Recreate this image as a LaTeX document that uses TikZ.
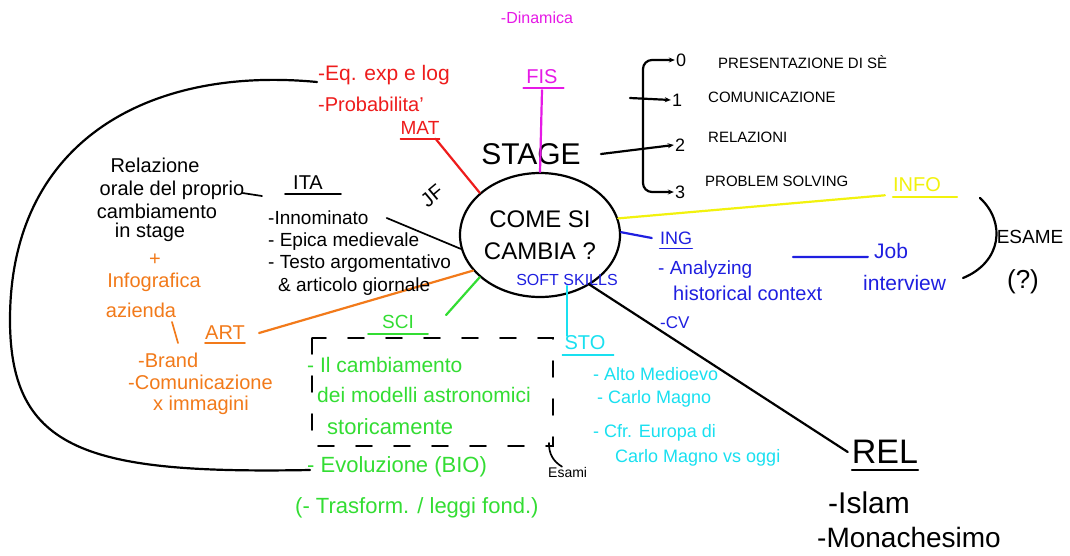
\documentclass[tikz,border=0pt]{standalone}
\usepackage{fontspec}
\setmainfont{Liberation Sans}
\usetikzlibrary{shapes.geometric,arrows.meta,calc}
\definecolor{mred}{HTML}{EE1C1C}
\definecolor{mmag}{HTML}{E619E6}
\definecolor{myel}{HTML}{F2F20D}
\definecolor{mblue}{HTML}{1F1FE0}
\definecolor{mcyan}{HTML}{19E0F0}
\definecolor{mgreen}{HTML}{33DD33}
\definecolor{morange}{HTML}{F27A1A}
\tikzset{
  fsz/.style={font=\fontsize{#1}{#1}\selectfont},
  lw/.style={inner sep=0pt, anchor=west},
  lc/.style={inner sep=0pt},
  ink/.style={line width=2.2pt, line cap=round},
  thin ink/.style={line width=1.7pt, line cap=round},
  >={Stealth[length=6pt,width=5pt]}
}
\begin{document}
\begin{tikzpicture}[x=1pt,y=-1pt]
\useasboundingbox[fill=white] (0,0) rectangle (1070,555);

% ---------- centre ----------
\node[draw, ink, ellipse, minimum width=160pt, minimum height=124pt, inner sep=0pt,
      align=center, font=\fontsize{24}{32}\selectfont] (core) at (540,235) {COME SI\\CAMBIA ?};
\node[lc, fsz=16, text=mblue] (softs) at (567,280) {SOFT SKILLS};

% ---------- STAGE ----------
\node[lc, fsz=30] (stage) at (531,154) {STAGE};
\node[lc, fsz=18] (n0) at (681,60) {0};
\node[lc, fsz=18] (n1) at (677,100) {1};
\node[lc, fsz=18] (n2) at (680,145) {2};
\node[lc, fsz=18] (n3) at (680,192) {3};
\node[lw, fsz=15] (t0) at (718,62) {PRESENTAZIONE DI SÈ};
\node[lw, fsz=15] (t1) at (708,97) {COMUNICAZIONE};
\node[lw, fsz=15] (t2) at (708,137) {RELAZIONI};
\node[lw, fsz=15] (t3) at (705,181) {PROBLEM SOLVING};
\coordinate (brk) at (643,148);
\coordinate (b1) at (630,98);
\draw[ink,->] ([xshift=20pt]stage.east) -- ([xshift=-1pt]n2.west);
\draw[ink,->,rounded corners=9pt] (brk) |- ([xshift=-1pt]n0.west);
\draw[ink,->,rounded corners=9pt] (brk) |- ([xshift=-1pt]n3.west);
\draw[ink,->] (b1) -- ([xshift=-1pt]n1.west);

% ---------- FIS ----------
\node[lc, fsz=16, text=mmag] (dyn) at (537,18) {-Dinamica};
\node[lc, fsz=20, text=mmag] (fis) at (542,77) {FIS};
\draw[thin ink, mmag] ([xshift=-3pt,yshift=-4pt]fis.south west) -- ([xshift=6pt,yshift=-4pt]fis.south east);
\draw[ink, mmag] ([yshift=-6pt]fis.south) -- (core.90);

% ---------- MAT ----------
\node[lw, fsz=21, text=mred] (eq) at (318,75) {-Eq. exp e log};
\node[lw, fsz=20, text=mred] (prob) at (318,104) {-Probabilita'};
\node[lc, fsz=19, text=mred] (mat) at (420,128) {MAT};
\draw[thin ink, mred] ([yshift=-4pt]mat.south west) -- ([yshift=-4pt]mat.south east);
\draw[ink, mred] ([xshift=-4pt,yshift=-4pt]mat.south east) -- (core.145);

% ---------- big arc ----------
\coordinate (arcA) at (317,82);
\coordinate (arcB) at (310,470);
\draw[ink] (arcA) .. controls (150,66) and (10,140) .. (10,320)
           .. controls (10,452) and (90,474) .. (arcB);

% ---------- left text ----------
\node[lc, fsz=20] (rel1) at (155,165) {Relazione};
\node[lc, fsz=20] (rel2) at (172,190) {orale del proprio};
\node[lc, fsz=20] (rel3) at (157,211) {cambiamento};
\node[lc, fsz=20] (rel4) at (150,232) {in stage};
\coordinate (tail) at (262,196);
\draw[thin ink] ([xshift=-2pt,yshift=-3pt]rel2.east) -- (tail);
\node[lc, fsz=20, text=morange] (plus) at (155,260) {+};
\node[lc, fsz=20, text=morange] (infog) at (154,282) {Infografica};
\node[lc, fsz=20, text=morange] (azi) at (141,310) {azienda};
\coordinate (s1) at (172,322);
\coordinate (s2) at (178,343);
\draw[thin ink, morange] (s1) -- (s2);
\node[lc, fsz=20, text=morange] (art) at (225,333) {ART};
\draw[thin ink, morange] ([yshift=-3pt]art.south west) -- ([yshift=-3pt]art.south east);
\node[lw, fsz=20, text=morange] (brand) at (138,360) {-Brand};
\node[lw, fsz=20, text=morange] (comx) at (128,382) {-Comunicazione};
\node[lw, fsz=20, text=morange] (xim) at (153,405) {x immagini};
\draw[ink, morange] ([xshift=14pt]art.east) -- (core.208);

% ---------- ITA ----------
\node[lc, fsz=20] (ita) at (308,183) {ITA};
\draw[thin ink] ([xshift=-8pt,yshift=-4pt]ita.south west) -- ([xshift=18pt,yshift=-4pt]ita.south east);
\node[lw, fsz=19] (inno) at (268,218) {-Innominato};
\node[lw, fsz=19] (epi) at (268,242) {- Epica medievale};
\node[lw, fsz=19] (tes) at (268,264) {- Testo argomentativo};
\node[lw, fsz=19] (gio) at (278,287) {\& articolo giornale};
\draw[thin ink] ([xshift=18pt]inno.east) -- (core.190);
\node[lc, fsz=20, rotate=40] (jf) at (432,196) {JF};

% ---------- SCI ----------
\node[lc, fsz=19, text=mgreen] (sci) at (398,322) {SCI};
\draw[thin ink, mgreen] ([xshift=-14pt,yshift=-5pt]sci.south west) -- ([xshift=14pt,yshift=-5pt]sci.south east);
\draw[ink, mgreen] (core.215) -- ([xshift=32pt]sci.north east);
\draw[thin ink, dash pattern=on 16pt off 22pt] (312,338) rectangle (553,446);
\node[lw, fsz=21, text=mgreen] (g1) at (307,365) {- Il cambiamento};
\node[lw, fsz=21, text=mgreen] (g2) at (317,395) {dei modelli astronomici};
\node[lw, fsz=22, text=mgreen] (g3) at (327,427) {storicamente};
\node[lw, fsz=22, text=mgreen] (g4) at (307,467) {- Evoluzione (BIO)};
\node[lw, fsz=22, text=mgreen] (g5) at (295,508) {(- Trasform. / leggi fond.)};
\node[lw, fsz=14] (esami) at (548,472) {Esami};
\coordinate (ea) at (549,443);
\draw[thin ink] (ea) to[bend right=30] ([xshift=14pt]esami.north west);

% ---------- STO ----------
\node[lc, fsz=20, text=mcyan] (sto) at (585,343) {STO};
\draw[thin ink, mcyan] ([xshift=-2pt,yshift=-5pt]sto.south west) -- ([xshift=8pt,yshift=-5pt]sto.south east);
\draw[ink, mcyan] (softs.south) -- (softs.south |- sto.north);
\node[lw, fsz=18, text=mcyan] (c1) at (593,374) {- Alto Medioevo};
\node[lw, fsz=18, text=mcyan] (c2) at (597,399) {- Carlo Magno};
\node[lw, fsz=18, text=mcyan] (c3) at (593,433) {- Cfr. Europa di};
\node[lw, fsz=18, text=mcyan] (c4) at (615,458) {Carlo Magno vs oggi};

% ---------- REL ----------
\node[lc, fsz=34] (rel) at (885,452) {REL};
\draw[thin ink] ([yshift=-6pt]rel.south west) -- ([yshift=-6pt]rel.south east);
\node[lw, fsz=30] (isl) at (828,503) {-Islam};
\node[lw, fsz=28] (mon) at (817,537) {-Monachesimo};
\draw[ink] (core.-45) -- ([xshift=-4pt]rel.west);

% ---------- ING ----------
\node[lc, fsz=18, text=mblue] (ing) at (676,238) {ING};
\draw[thin ink, mblue] ([yshift=-4pt]ing.south west) -- ([yshift=-4pt]ing.south east);
\draw[ink, mblue] (core.2) -- ([xshift=-8pt]ing.west);
\node[lw, fsz=19, text=mblue] (an) at (658,270) {- Analyzing};
\node[lw, fsz=20, text=mblue] (hc) at (673,293) {historical context};
\node[lw, fsz=17, text=mblue] (cv) at (660,323) {-CV};
\node[lc, fsz=21, text=mblue] (job) at (891,251) {Job};
\node[lw, fsz=21, text=mblue] (intv) at (863,283) {interview};
\coordinate (bl1) at (793,257);
\draw[ink, mblue] (bl1) -- ([xshift=-6pt,yshift=2pt]job.south west);

% ---------- INFO ----------
\node[lc, fsz=20, text=myel] (info) at (917,185) {INFO};
\draw[ink, myel] (core.12) -- ([xshift=-8pt,yshift=-3pt]info.south west);
\draw[ink, myel] ([yshift=-5pt]info.south west) -- ([xshift=16pt,yshift=-5pt]info.south east);

% ---------- ESAME ----------
\coordinate (ba) at (980,198);
\coordinate (bb) at (963,278);
\draw[ink] (ba) .. controls (1006,222) and (1002,262) .. (bb);
\node[lc, fsz=19] (esame) at (1030,237) {ESAME};
\node[lc, fsz=26] (qm) at (1023,282) {(?)};
\end{tikzpicture}
\end{document}
